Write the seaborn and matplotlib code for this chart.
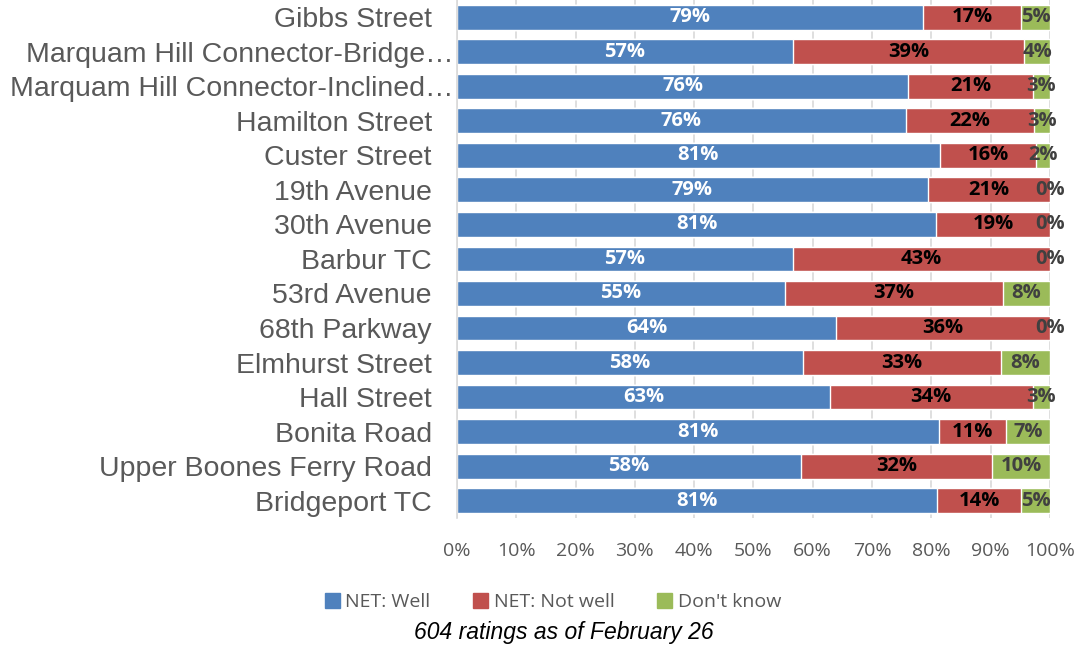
import matplotlib
matplotlib.use('Agg')
import matplotlib.pyplot as plt
import matplotlib.transforms as mtransforms
import pandas as pd
import seaborn as sns
from matplotlib.patches import Patch

# Data (percent of ratings per station)
stations = ['Gibbs Street', 'Marquam Hill Connector-Bridge\u2026',
            'Marquam Hill Connector-Inclined\u2026', 'Hamilton Street',
            'Custer Street', '19th Avenue', '30th Avenue', 'Barbur TC',
            '53rd Avenue', '68th Parkway', 'Elmhurst Street', 'Hall Street',
            'Bonita Road', 'Upper Boones Ferry Road', 'Bridgeport TC']
well = [78.6, 56.6, 76.1, 75.7, 81.4, 79.4, 80.8, 56.7, 55.3, 64.0, 58.4, 62.9, 81.3, 58.0, 81.0]
not_well = [16.6, 39.1, 21.0, 21.6, 16.3, 20.6, 19.2, 43.3, 36.8, 36.0, 33.3, 34.2, 11.3, 32.3, 14.2]
dont_know = [4.8, 4.4, 2.9, 2.7, 2.3, 0.0, 0.0, 0.0, 7.9, 0.0, 8.3, 2.9, 7.4, 9.7, 4.8]
x_ticks = [0, 10, 20, 30, 40, 50, 60, 70, 80, 90, 100]

df = pd.DataFrame({'station': stations, 'well': well,
                   'not_well': not_well, 'dont_know': dont_know})
df['cum_red'] = df['well'] + df['not_well']
df['cum_all'] = df['cum_red'] + df['dont_know']

blue, red, green = '#4F81BD', '#C0504D', '#9BBB59'
gray = '#595959'

sns.set_style('white')
plt.rcParams['font.family'] = ['Liberation Sans', 'DejaVu Sans']

fig = plt.figure(figsize=(10.76, 6.49), dpi=100)
ax = fig.add_axes([0.4247, 0.202, 0.551, 0.798])

# stacked bars drawn back to front
sns.barplot(data=df, x='cum_all', y='station', color=green, width=0.72,
            saturation=1, ax=ax, orient='h')
sns.barplot(data=df, x='cum_red', y='station', color=red, width=0.72,
            saturation=1, ax=ax, orient='h')
sns.barplot(data=df, x='well', y='station', color=blue, width=0.72,
            saturation=1, ax=ax, orient='h')

ax.set_xlim(0, 100)
ax.set_ylim(len(stations) - 0.5, -0.5)
ax.set_xticks(x_ticks)
ax.set_xticklabels([f'{t}%' for t in x_ticks], color=gray, fontsize=14,
                   family=['Open Sans', 'DejaVu Sans'])
ax.tick_params(axis='x', length=0, pad=17)
ax.tick_params(axis='y', length=0, pad=18, labelsize=20.5, labelcolor=gray)
ax.set_xlabel('')
ax.set_ylabel('')
ax.grid(axis='x', color='#D9D9D9', linewidth=1.2)
ax.set_axisbelow(True)
for s in ['top', 'right', 'bottom']:
    ax.spines[s].set_visible(False)
ax.spines['left'].set_color('#D9D9D9')
ax.spines['left'].set_linewidth(1.2)

# truncated labels run a little further right, as in the original
shift = mtransforms.ScaledTranslation(22 / 100, 0, fig.dpi_scale_trans)
for lbl in ax.get_yticklabels():
    if lbl.get_text().endswith('\u2026'):
        lbl.set_transform(lbl.get_transform() + shift)

# segment labels
lab_font = ['Open Sans', 'DejaVu Sans']
for i, row in df.iterrows():
    ax.text(row['well'] / 2, i, f"{row['well']:.0f}%", ha='center', va='center',
            color='white', fontsize=14.5, fontweight='bold', family=lab_font)
    ax.text(row['well'] + row['not_well'] / 2, i, f"{row['not_well']:.0f}%",
            ha='center', va='center', color='black', fontsize=14.5,
            fontweight='bold', family=lab_font)
    ax.text(row['cum_red'] + row['dont_know'] / 2, i, f"{row['dont_know']:.0f}%",
            ha='center', va='center', color='#404040', fontsize=14.5,
            fontweight='bold', family=lab_font, clip_on=False)

handles = [Patch(color=blue, label='NET: Well'),
           Patch(color=red, label='NET: Not well'),
           Patch(color=green, label="Don't know")]
fig.legend(handles=handles, loc='center', bbox_to_anchor=(0.514, 0.072),
           ncol=3, frameon=False, handlelength=0.75, handleheight=0.75,
           handletextpad=0.3, columnspacing=2.2,
           prop={'family': ['Open Sans', 'DejaVu Sans'], 'size': 14},
           labelcolor=gray)

fig.text(0.524, 0.026, '604 ratings as of February 26', ha='center',
         va='center', fontsize=16.5, style='italic', color='black')

fig.savefig('out.png', dpi=100)
